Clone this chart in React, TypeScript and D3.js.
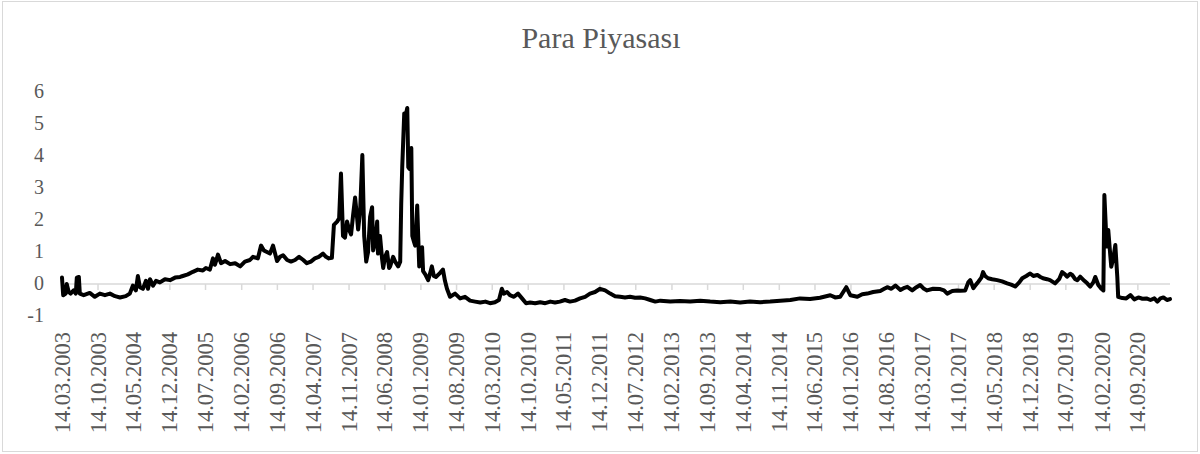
import React from "react";
import * as d3 from "d3";

const title = "Para Piyasası";

const yTicks = [-1, 0, 1, 2, 3, 4, 5, 6];

const xTickLabels = [
  "14.03.2003", "14.10.2003", "14.05.2004", "14.12.2004", "14.07.2005", "14.02.2006",
  "14.09.2006", "14.04.2007", "14.11.2007", "14.06.2008", "14.01.2009", "14.08.2009",
  "14.03.2010", "14.10.2010", "14.05.2011", "14.12.2011", "14.07.2012", "14.02.2013",
  "14.09.2013", "14.04.2014", "14.11.2014", "14.06.2015", "14.01.2016", "14.08.2016",
  "14.03.2017", "14.10.2017", "14.05.2018", "14.12.2018", "14.07.2019", "14.02.2020",
  "14.09.2020",
];

const dates = [
  "2003-03-14", "2003-03-21", "2003-04-05", "2003-04-11", "2003-04-23", "2003-05-04", "2003-05-22", "2003-06-04",
  "2003-06-10", "2003-06-22", "2003-06-28", "2003-07-21", "2003-08-26", "2003-09-25", "2003-10-25", "2003-11-24",
  "2003-12-24", "2004-01-23", "2004-02-22", "2004-03-27", "2004-04-20", "2004-05-08", "2004-05-26", "2004-06-07",
  "2004-06-19", "2004-07-07", "2004-07-25", "2004-08-06", "2004-08-18", "2004-09-05", "2004-09-23", "2004-10-16",
  "2004-11-15", "2004-12-15", "2005-01-14", "2005-02-13", "2005-03-01", "2005-03-31", "2005-04-30", "2005-05-29",
  "2005-06-28", "2005-07-16", "2005-08-09", "2005-08-27", "2005-09-08", "2005-09-26", "2005-10-14", "2005-11-07",
  "2005-12-07", "2006-01-06", "2006-02-05", "2006-03-05", "2006-04-04", "2006-04-22", "2006-05-21", "2006-06-09",
  "2006-06-26", "2006-07-14", "2006-08-01", "2006-08-19", "2006-09-12", "2006-09-30", "2006-10-18", "2006-11-11",
  "2006-12-04", "2006-12-28", "2007-01-21", "2007-02-15", "2007-03-08", "2007-04-01", "2007-04-25", "2007-05-18",
  "2007-06-12", "2007-06-30", "2007-07-17", "2007-08-04", "2007-08-16", "2007-09-04", "2007-09-16", "2007-09-27",
  "2007-10-09", "2007-10-21", "2007-11-02", "2007-11-14", "2007-11-26", "2007-12-08", "2007-12-20", "2008-01-02",
  "2008-01-07", "2008-01-19", "2008-02-01", "2008-02-12", "2008-02-24", "2008-03-06", "2008-03-18", "2008-03-30",
  "2008-04-05", "2008-04-17", "2008-04-29", "2008-05-04", "2008-05-16", "2008-05-28", "2008-06-04", "2008-06-15",
  "2008-06-27", "2008-07-09", "2008-07-15", "2008-08-02", "2008-08-14", "2008-09-01", "2008-09-13", "2008-09-19",
  "2008-09-25", "2008-10-07", "2008-10-13", "2008-10-25", "2008-10-31", "2008-11-06", "2008-11-18", "2008-11-24",
  "2008-12-05", "2008-12-11", "2008-12-23", "2009-01-04", "2009-01-16", "2009-01-21", "2009-01-27", "2009-02-09",
  "2009-02-26", "2009-03-08", "2009-03-20", "2009-04-01", "2009-04-13", "2009-05-07", "2009-05-25", "2009-06-06",
  "2009-06-18", "2009-07-06", "2009-08-05", "2009-09-04", "2009-10-03", "2009-11-02", "2009-12-02", "2010-01-02",
  "2010-02-01", "2010-03-01", "2010-03-30", "2010-04-23", "2010-05-10", "2010-05-22", "2010-06-10", "2010-06-27",
  "2010-07-21", "2010-08-14", "2010-09-07", "2010-10-01", "2010-10-25", "2010-11-24", "2010-12-24", "2011-01-23",
  "2011-02-22", "2011-03-22", "2011-04-20", "2011-05-20", "2011-06-19", "2011-07-19", "2011-08-18", "2011-09-17",
  "2011-10-16", "2011-11-15", "2011-12-15", "2012-01-14", "2012-02-13", "2012-03-13", "2012-04-12", "2012-05-11",
  "2012-06-10", "2012-07-10", "2012-08-09", "2012-09-08", "2012-10-08", "2012-11-07", "2012-12-07", "2013-02-04",
  "2013-04-03", "2013-06-02", "2013-08-01", "2013-09-29", "2013-11-28", "2014-01-27", "2014-03-26", "2014-05-24",
  "2014-07-23", "2014-09-21", "2014-11-20", "2015-01-19", "2015-03-17", "2015-05-16", "2015-07-14", "2015-09-13",
  "2015-10-12", "2015-11-11", "2015-12-17", "2016-01-10", "2016-02-21", "2016-03-21", "2016-04-20", "2016-05-25",
  "2016-07-06", "2016-07-30", "2016-08-17", "2016-09-10", "2016-10-04", "2016-11-03", "2016-11-27", "2016-12-14",
  "2017-01-12", "2017-02-06", "2017-02-28", "2017-03-23", "2017-04-10", "2017-05-16", "2017-06-27", "2017-07-20",
  "2017-08-08", "2017-09-07", "2017-10-06", "2017-10-24", "2017-11-23", "2017-12-11", "2017-12-23", "2018-01-10",
  "2018-01-22", "2018-02-09", "2018-02-27", "2018-03-09", "2018-03-21", "2018-04-08", "2018-05-02", "2018-06-01",
  "2018-06-30", "2018-07-30", "2018-08-23", "2018-09-16", "2018-10-10", "2018-10-28", "2018-11-21", "2018-12-14",
  "2019-01-02", "2019-01-26", "2019-02-13", "2019-02-28", "2019-03-24", "2019-04-11", "2019-05-11", "2019-06-04",
  "2019-06-22", "2019-07-09", "2019-07-21", "2019-08-09", "2019-08-21", "2019-09-08", "2019-09-20", "2019-10-07",
  "2019-11-01", "2019-11-18", "2019-12-06", "2019-12-24", "2020-01-05", "2020-01-23", "2020-02-10", "2020-02-22",
  "2020-02-28", "2020-03-10", "2020-03-16", "2020-03-22", "2020-04-03", "2020-04-09", "2020-04-21", "2020-05-03",
  "2020-05-15", "2020-05-20", "2020-06-14", "2020-07-07", "2020-08-01", "2020-08-24", "2020-09-17", "2020-10-11",
  "2020-11-04", "2020-11-28", "2020-12-21", "2021-01-08", "2021-01-26", "2021-02-13", "2021-03-06", "2021-03-24",
];

const values = [
  0.2, -0.35, -0.3, 0.0, -0.25, -0.3, -0.2, -0.3,
  0.2, 0.22, -0.3, -0.35, -0.28, -0.4, -0.3, -0.35,
  -0.3, -0.38, -0.42, -0.38, -0.3, -0.05, -0.2, 0.25,
  -0.1, -0.15, 0.1, -0.15, 0.15, -0.05, 0.1, 0.05,
  0.15, 0.12, 0.2, 0.22, 0.25, 0.3, 0.38, 0.45,
  0.42, 0.5, 0.45, 0.8, 0.6, 0.92, 0.65, 0.72,
  0.62, 0.65, 0.55, 0.7, 0.75, 0.85, 0.8, 1.2,
  1.05, 1.0, 0.95, 1.2, 0.72, 0.85, 0.9, 0.75,
  0.7, 0.75, 0.85, 0.75, 0.65, 0.7, 0.8, 0.85,
  0.95, 0.85, 0.8, 0.82, 1.85, 1.95, 2.05, 3.45,
  1.5, 1.45, 1.95, 1.7, 1.55, 2.15, 2.7, 2.0,
  1.7, 2.3, 4.03, 1.5, 0.7, 1.0, 2.1, 2.4,
  1.05, 1.3, 1.95, 0.95, 1.5, 0.8, 0.5, 0.85,
  1.0, 0.5, 0.55, 0.85, 0.7, 0.55, 0.7, 2.5,
  3.65, 5.33, 5.2, 5.5, 3.65, 3.6, 4.25, 1.5,
  1.3, 1.2, 2.45, 0.55, 0.9, 1.15, 0.4, 0.3,
  0.12, 0.3, 0.55, 0.25, 0.22, 0.34, 0.45, 0.1,
  -0.15, -0.4, -0.3, -0.45, -0.4, -0.52, -0.55, -0.58,
  -0.55, -0.6, -0.57, -0.5, -0.15, -0.3, -0.25, -0.35,
  -0.4, -0.3, -0.45, -0.6, -0.58, -0.6, -0.57, -0.6,
  -0.55, -0.58, -0.55, -0.5, -0.55, -0.52, -0.45, -0.4,
  -0.3, -0.25, -0.15, -0.2, -0.3, -0.38, -0.4, -0.42,
  -0.4, -0.43, -0.42, -0.45, -0.5, -0.55, -0.52, -0.55,
  -0.53, -0.55, -0.52, -0.55, -0.57, -0.55, -0.58, -0.55,
  -0.57, -0.55, -0.52, -0.5, -0.45, -0.47, -0.43, -0.35,
  -0.42, -0.4, -0.1, -0.35, -0.4, -0.32, -0.3, -0.25,
  -0.22, -0.15, -0.1, -0.15, -0.05, -0.19, -0.12, -0.09,
  -0.2, -0.1, -0.03, -0.15, -0.2, -0.15, -0.16, -0.2,
  -0.3, -0.22, -0.2, -0.21, -0.2, 0.05, 0.12, -0.13,
  -0.05, 0.07, 0.2, 0.37, 0.25, 0.18, 0.15, 0.12,
  0.08, 0.02, -0.02, -0.08, 0.05, 0.18, 0.25, 0.33,
  0.25, 0.28, 0.22, 0.18, 0.15, 0.12, 0.02, 0.15,
  0.37, 0.3, 0.23, 0.32, 0.28, 0.15, 0.12, 0.23,
  0.1, 0.02, -0.08, 0.05, 0.22, -0.03, -0.15, -0.2,
  2.78, 1.5, 1.17, 1.69, 0.9, 0.54, 0.8, 1.22,
  0.2, -0.4, -0.44, -0.45, -0.35, -0.48, -0.42, -0.46,
  -0.45, -0.5, -0.45, -0.55, -0.45, -0.42, -0.5, -0.47,
];

const W = 1200;
const H = 454;
const font = "'Liberation Serif', 'Times New Roman', serif";
const textColor = "#595959";
const gridColor = "#d9d9d9";

const parseIso = d3.timeParse("%Y-%m-%d");
const parseLabel = d3.timeParse("%d.%m.%Y");

export default function App() {
  const points = dates.map((d, i) => ({ date: parseIso(d) as Date, value: values[i] }));
  const firstDate = points[0].date;
  const lastDate = points[points.length - 1].date;

  const x = d3.scaleTime().domain([firstDate, lastDate]).range([62, 1170]);
  const y = d3.scaleLinear().domain([-1, 6]).range([316, 92]);

  const line = d3
    .line<{ date: Date; value: number }>()
    .x((p) => x(p.date))
    .y((p) => y(p.value));

  const tickDates = xTickLabels.map((l) => parseLabel(l) as Date);
  const y0 = y(0);

  return (
    <svg
      width={W}
      height={H}
      style={{ position: "absolute", left: 0, top: 0, display: "block" }}
      fontFamily={font}
    >
      <rect x={2.5} y={1.5} width={1195} height={450} fill="#ffffff" stroke={gridColor} strokeWidth={1} />
      <text x={601} y={48} textAnchor="middle" fontSize={30} fill={textColor}>
        {title}
      </text>
      {yTicks.map((t) => (
        <text key={t} x={44} y={y(t)} dy="0.32em" textAnchor="end" fontSize={20} fill={textColor}>
          {t}
        </text>
      ))}
      <line x1={x(firstDate)} x2={x(lastDate)} y1={y0} y2={y0} stroke={gridColor} strokeWidth={1.5} />
      {tickDates.map((d, i) => (
        <line key={"t" + i} x1={x(d)} x2={x(d)} y1={y0} y2={y0 + 6} stroke={gridColor} strokeWidth={1.5} />
      ))}
      {tickDates.map((d, i) => (
        <text
          key={"l" + i}
          transform={`translate(${x(d) + 7.5},332) rotate(-90)`}
          textAnchor="end"
          fontSize={22.5}
          fill={textColor}
        >
          {xTickLabels[i]}
        </text>
      ))}
      <path
        d={line(points) || ""}
        fill="none"
        stroke="#000000"
        strokeWidth={4}
        strokeLinejoin="round"
        strokeLinecap="round"
      />
    </svg>
  );
}
